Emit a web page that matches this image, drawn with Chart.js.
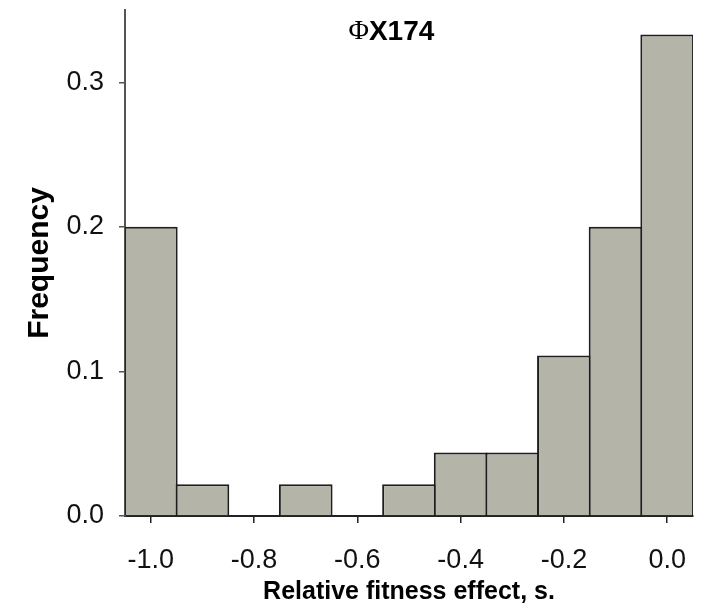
<!DOCTYPE html>
<html>
<head>
<meta charset="utf-8">
<script src="https://cdn.jsdelivr.net/npm/chart.js@4"></script>
<style>
  html, body { margin: 0; padding: 0; background: #fff; }
  #wrap { width: 708px; height: 610px; }
</style>
</head>
<body>
<div id="wrap"><canvas id="fitnessChart" width="708" height="610"></canvas></div>
<script>
// histogram bins (centre of each 0.1-wide bin) and their frequencies
const binCenters = [-1.0, -0.9, -0.8, -0.7, -0.6, -0.5, -0.4, -0.3, -0.2, -0.1, 0.0];
const frequencies = [0.200, 0.022, 0.0, 0.022, 0.0, 0.022, 0.044, 0.044, 0.111, 0.200, 0.333];
const xTicks = [-1.0, -0.8, -0.6, -0.4, -0.2, 0.0];
const yTicks = [0.0, 0.1, 0.2, 0.3];
const chartTitle = ['\u03A6', 'X174'];

const titlePlugin = {
    id: 'phiTitle',
    afterDraw(chart) {
        const c = chart.ctx;
        const area = chart.chartArea;
        c.save();
        c.fillStyle = '#000';
        c.textBaseline = 'middle';
        const serif = '28px "Liberation Serif", serif';
        const sans = 'bold 28px "Liberation Sans", Arial, sans-serif';
        c.font = serif;
        const w1 = c.measureText(chartTitle[0]).width;
        c.font = sans;
        const w2 = c.measureText(chartTitle[1]).width;
        let x = area.left + (area.right - area.left) * 0.469 - (w1 + w2) / 2;
        const y = area.top + 22;
        c.font = serif;
        c.fillText(chartTitle[0], x, y);
        c.font = sans;
        c.fillText(chartTitle[1], x + w1, y);
        c.restore();
    }
};

const ctx = document.getElementById('fitnessChart').getContext('2d');

new Chart(ctx, {
    type: 'bar',
    data: {
        datasets: [{
            data: binCenters.map((x, i) => ({ x: x, y: frequencies[i] })),
            backgroundColor: '#b4b5a8',
            borderColor: '#1e1e1e',
            borderWidth: 2,
            barPercentage: 1.04,
            categoryPercentage: 1.0
        }]
    },
    options: {
        responsive: false,
        animation: false,
        layout: { padding: { top: 10, right: 15, left: 0, bottom: 0 } },
        plugins: {
            legend: { display: false },
            tooltip: { enabled: false }
        },
        scales: {
            x: {
                type: 'linear',
                min: -1.05,
                max: 0.05,
                offset: false,
                afterFit: s => { s.height = 94; s.paddingLeft = 0; s.paddingRight = 0; },
                afterBuildTicks: s => { s.ticks = xTicks.map(v => ({ value: v })); },
                grid: { display: true, offset: false, drawOnChartArea: false, drawTicks: true, tickLength: 7, color: '#222', lineWidth: 1.5 },
                border: { display: true, color: '#222', width: 2 },
                ticks: {
                    color: '#111',
                    padding: 21,
                    maxRotation: 0,
                    font: { family: '"Liberation Sans", Arial, sans-serif', size: 27 },
                    callback: v => v.toFixed(1)
                },
                title: {
                    display: true,
                    text: 'Relative fitness effect, s.',
                    color: '#000',
                    padding: { top: 0, bottom: 3 },
                    font: { family: '"Liberation Sans", Arial, sans-serif', size: 25, weight: 'bold' }
                }
            },
            y: {
                min: 0,
                max: 0.35,
                afterFit: s => { s.width = 125; s.paddingTop = 0; s.paddingBottom = 0; },
                afterBuildTicks: s => { s.ticks = yTicks.map(v => ({ value: v })); },
                grid: { display: true, drawOnChartArea: false, drawTicks: true, tickLength: 6, color: '#555', lineWidth: 1.5 },
                border: { display: true, color: '#555', width: 2 },
                ticks: {
                    color: '#111',
                    padding: 15,
                    font: { family: '"Liberation Sans", Arial, sans-serif', size: 27 },
                    callback: v => v.toFixed(1)
                },
                title: {
                    display: true,
                    text: 'Frequency',
                    color: '#000',
                    padding: { top: 22, bottom: 0 },
                    font: { family: '"Liberation Sans", Arial, sans-serif', size: 30, weight: 'bold' }
                }
            }
        }
    },
    plugins: [titlePlugin]
});
</script>
</body>
</html>
